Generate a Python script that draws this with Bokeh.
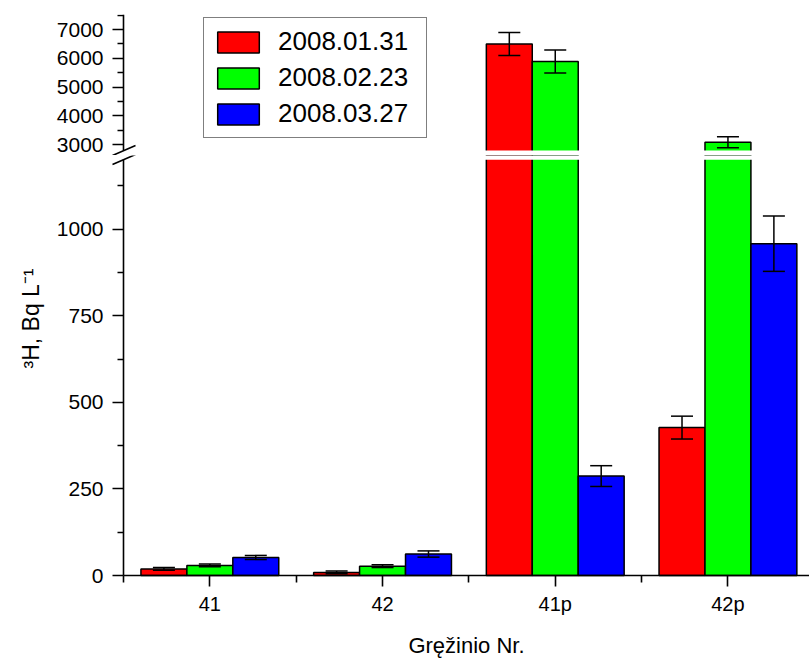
import numpy as np
from bokeh.plotting import figure
from bokeh.models import (ColumnDataSource, FixedTicker, Legend, LegendItem,
                          Arrow, Range1d, Label, BoxAnnotation)
from bokeh.layouts import column
from bokeh.transform import dodge
from bokeh.embed import file_html
from bokeh.resources import INLINE

# ---------------- data ----------------
categories = ["41", "42", "41p", "42p"]
series_names = ["2008.01.31", "2008.02.23", "2008.03.27"]
s1_values = [19, 9, 6500, 427]
s1_errors = [4, 4, 400, 33]
s2_values = [29, 27, 5885, 3080]
s2_errors = [4, 4, 400, 190]
s3_values = [52, 62, 287, 958]
s3_errors = [6, 9, 30, 80]
colors = ["#FF0000", "#00FF00", "#0000FF"]
lower_ticks = [0, 250, 500, 750, 1000]
lower_minor = [125, 375, 625, 875, 1125]
upper_ticks = [3000, 4000, 5000, 6000, 7000]
upper_minor = [3500, 4500, 5500, 6500, 7500]
break_low = 1200     # top of the lower segment
break_high = 2790    # bottom of the upper segment
y_label = "\u00b3H, Bq L\u207b\u00b9"
x_label = "Gręžinio Nr."

FONT = "Liberation Sans"
BAR_W = 0.266
offsets = [-BAR_W, 0.0, BAR_W]
xpos = list(range(1, len(categories) + 1))

PX = 172.7                      # pixels per category
FRAME_W = 809
AXIS_X = 123                    # px from frame left to the y axis
x0 = 0.5 - AXIS_X / PX
xr = Range1d(x0, x0 + FRAME_W / PX)


def style_axis(ax, major_out=11, minor_out=6, size="21px"):
    ax.axis_line_color = "black"
    ax.axis_line_width = 1.6
    ax.major_tick_line_color = "black"
    ax.major_tick_line_width = 1.6
    ax.minor_tick_line_color = "black"
    ax.minor_tick_line_width = 1.6
    ax.major_tick_out = major_out
    ax.major_tick_in = 0
    ax.minor_tick_out = minor_out
    ax.minor_tick_in = 0
    ax.major_label_text_font = FONT
    ax.major_label_text_font_size = size
    ax.major_label_text_color = "black"


def make_fig(frame_h, y0, y1, top_b):
    p = figure(frame_width=FRAME_W, frame_height=frame_h, x_range=xr,
               y_range=Range1d(y0, y1), output_backend="svg",
               toolbar_location=None, min_border_left=0, min_border_right=0,
               min_border_top=top_b, min_border_bottom=0)
    p.outline_line_color = None
    p.grid.visible = False
    return p


p_up = make_fig(141, 2618, 7522, 14)
p_lo = make_fig(504, -242.5, 1212.5, 0)

renderers_up = []
for p in (p_up, p_lo):
    for vals, errs, col, off in zip((s1_values, s2_values, s3_values),
                                    (s1_errors, s2_errors, s3_errors),
                                    colors, offsets):
        src = ColumnDataSource(dict(
            x=xpos, top=vals,
            hi=[v + e for v, e in zip(vals, errs)],
            lo=[v - e for v, e in zip(vals, errs)]))
        r = p.vbar(x=dodge("x", off), top="top", bottom=0, width=BAR_W,
                   fill_color=col, line_color="black", line_width=1.5, source=src)
        p.segment(x0=dodge("x", off), y0="lo", x1=dodge("x", off), y1="hi",
                  line_color="black", line_width=1.5, source=src)
        for key in ("hi", "lo"):
            p.scatter(x=dodge("x", off), y=key, marker="dash", size=22,
                      line_color="black", line_width=1.5, source=src)
        if p is p_up:
            renderers_up.append(r)

# white gap of the broken axis (and everything below the upper segment)
p_up.add_layout(BoxAnnotation(top=break_high, left=0.5, fill_color="white",
                              fill_alpha=1.0, line_color=None))
p_lo.add_layout(BoxAnnotation(bottom=break_low, left=0.5, fill_color="white",
                              fill_alpha=1.0, line_color=None))

# upper axes
p_up.xaxis.visible = False
ya = p_up.yaxis[0]
ya.ticker = FixedTicker(ticks=upper_ticks, minor_ticks=upper_minor)
style_axis(ya)
ya.major_label_standoff = 9
ya.fixed_location = 0.5
ya.bounds = (break_high, 7522)

# lower axes
yl = p_lo.yaxis[0]
yl.ticker = FixedTicker(ticks=lower_ticks, minor_ticks=lower_minor)
style_axis(yl)
yl.major_label_standoff = 9
yl.fixed_location = 0.5
yl.bounds = (0, break_low)

xa = p_lo.xaxis[0]
xa.ticker = FixedTicker(ticks=xpos, minor_ticks=[x - 0.5 for x in xpos] + [xpos[-1] + 0.5])
xa.major_label_overrides = {x: c for x, c in zip(xpos, categories)}
style_axis(xa, major_out=11, minor_out=7, size="20px")
xa.fixed_location = 0
xa.bounds = (0.5, 4.5)
xa.major_label_standoff = 6
xa.axis_label = x_label
xa.axis_label_text_font = FONT
xa.axis_label_text_font_size = "22px"
xa.axis_label_text_font_style = "normal"
xa.axis_label_text_color = "black"
xa.axis_label_standoff = 15

# y label
p_lo.add_layout(Label(x=30, y=341, x_units="screen", y_units="screen",
                      text=y_label, angle=np.pi / 2, text_align="center",
                      text_baseline="middle", text_font=FONT,
                      text_font_size="23px", text_color="black"))

# axis break marks
p_up.add_layout(Arrow(x_start=AXIS_X - 11, y_start=0, x_end=AXIS_X + 12, y_end=10,
                      start_units="screen", end_units="screen", end=None,
                      line_color="black", line_width=1.6, level="overlay"))
p_lo.add_layout(Arrow(x_start=AXIS_X - 11, y_start=495, x_end=AXIS_X + 12, y_end=505,
                      start_units="screen", end_units="screen", end=None,
                      line_color="black", line_width=1.6, level="overlay"))

# legend
legend = Legend(items=[LegendItem(label=n, renderers=[r])
                       for n, r in zip(series_names, renderers_up)],
                location=(203, 17), margin=0, padding=8, spacing=5,
                glyph_width=52, glyph_height=26, label_height=26,
                label_width=140, label_standoff=14,
                label_text_font=FONT, label_text_font_size="26px",
                label_text_color="black", label_text_baseline="middle",
                border_line_color="black", border_line_width=1.2,
                background_fill_alpha=1.0)
p_up.add_layout(legend)

layout = column(p_up, p_lo, spacing=0)
open("out.html", "w").write(file_html(layout, INLINE))
